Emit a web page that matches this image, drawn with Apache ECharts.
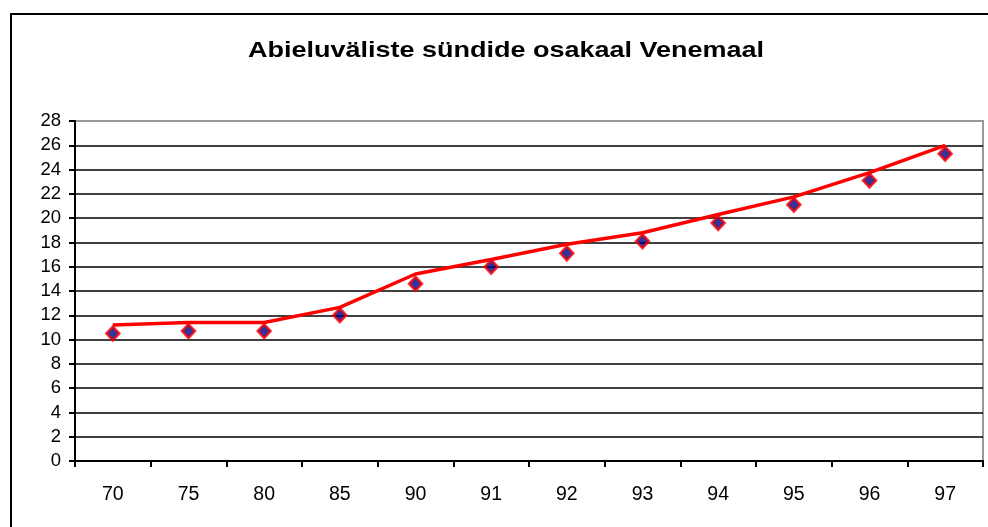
<!DOCTYPE html>
<html>
<head>
<meta charset="utf-8">
<script src="https://cdn.jsdelivr.net/npm/echarts@6/dist/echarts.min.js"></script>
<style>
html,body{margin:0;padding:0;background:#fff;}
#chart{width:988px;height:527px;}
</style>
</head>
<body>
<div id="chart"></div>
<script>
const titleText = 'Abieluväliste sündide osakaal Venemaal';
const categories = ['70','75','80','85','90','91','92','93','94','95','96','97'];
const observed = [10.5, 10.7, 10.7, 12.0, 14.6, 16.0, 17.1, 18.1, 19.6, 21.1, 23.1, 25.3];
const trendLine = [11.2, 11.4, 11.4, 12.65, 15.4, 16.6, 17.85, 18.8, 20.3, 21.75, 23.75, 26.0];
const yMin = 0, yMax = 28, yStep = 2;

const splitColors = [];
for (let v = yMin; v <= yMax; v += yStep) splitColors.push(v === yMax ? '#999999' : '#000000');

const chart = echarts.init(document.getElementById('chart'), null, {renderer: 'canvas'});
chart.setOption({
  animation: false,
  backgroundColor: '#ffffff',
  graphic: [{
    type: 'rect',
    shape: {x: 11, y: 14, width: 1200, height: 700},
    style: {fill: 'none', stroke: '#000', lineWidth: 2},
    silent: true
  }, {
    type: 'text',
    x: 506, y: 50.5,
    originX: 0, originY: 0,
    scaleX: 1.2,
    style: {
      text: titleText,
      x: 0, y: 0,
      textAlign: 'center',
      textVerticalAlign: 'middle',
      font: 'bold 22.5px "Liberation Sans", Arial, sans-serif',
      fill: '#000'
    },
    silent: true
  }],
  grid: {
    left: 75, right: 5, top: 121, bottom: 66,
    show: true, borderColor: '#999999', borderWidth: 2, backgroundColor: 'transparent'
  },
  xAxis: {
    type: 'category',
    data: categories,
    boundaryGap: true,
    axisLine: {lineStyle: {color: '#000', width: 2}},
    axisTick: {show: true, alignWithLabel: false, length: 6, inside: false, lineStyle: {color: '#000', width: 2}},
    axisLabel: {margin: 24, fontFamily: 'Liberation Sans, Arial, sans-serif', fontSize: 19.5, color: '#000'},
    splitLine: {show: false}
  },
  yAxis: {
    type: 'value',
    min: yMin, max: yMax, interval: yStep,
    axisLine: {show: true, lineStyle: {color: '#000', width: 2}},
    axisTick: {show: true, length: 6, lineStyle: {color: '#000', width: 2}},
    axisLabel: {margin: 14, fontFamily: 'Liberation Sans, Arial, sans-serif', fontSize: 18.5, color: '#000'},
    splitLine: {show: true, lineStyle: {color: splitColors, width: 1.5}}
  },
  series: [
    {
      type: 'line',
      data: trendLine,
      showSymbol: false,
      symbol: 'none',
      lineStyle: {color: '#ff0000', width: 3.5},
      z: 2
    },
    {
      type: 'scatter',
      data: observed,
      symbol: 'diamond',
      symbolSize: [13, 14],
      itemStyle: {color: '#000080', borderColor: '#ff0000', borderWidth: 2.5},
      z: 3
    }
  ]
});
</script>
</body>
</html>
